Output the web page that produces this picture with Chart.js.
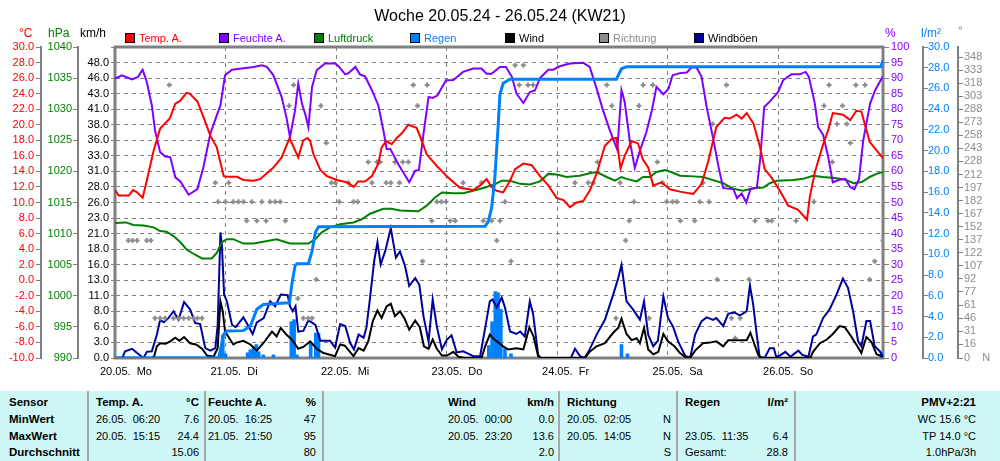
<!DOCTYPE html>
<html><head><meta charset="utf-8">
<script src="https://cdn.jsdelivr.net/npm/chart.js@4.4.1/dist/chart.umd.min.js"></script>
<style>
html,body{margin:0;padding:0;background:#fff;}
body{width:1000px;height:461px;overflow:hidden;font-family:"Liberation Sans",Arial,sans-serif;}
#wrap{position:relative;width:1000px;height:461px;}
#c{position:absolute;left:0;top:0;}
.t{position:absolute;white-space:pre;font-size:11px;line-height:13px;}
.b{font-weight:bold;font-size:11.5px;}
.box{position:absolute;width:8px;height:8px;border:1px solid #000;}
#tbl{position:absolute;left:0;top:391px;width:1000px;height:70px;background:#cdf8f6;}
.sep{position:absolute;top:391px;width:2px;height:70px;background:#a8a8a8;}
</style>
</head><body><div id="wrap">
<canvas id="c" width="1000" height="390"></canvas>
<div id="tbl"></div>
</div>
<script>
// ---------- data ----------
const dayTicks = [0, 24, 48, 72, 96, 120, 144];
const dayLabels = ['20.05.  Mo', '21.05.  Di', '22.05.  Mi', '23.05.  Do', '24.05.  Fr', '25.05.  Sa', '26.05.  So'];
const windTickLabels = ['0.0','3.0','6.0','8.0','11.0','13.0','16.0','18.0','21.0','23.0','26.0','28.0','31.0','33.0','36.0','38.0','41.0','43.0','46.0','48.0'];
const dirTickLabels = [0,16,31,46,61,77,92,107,122,137,152,167,182,197,212,228,243,258,273,288,303,318,333,348];

// [hour since 20.05. 00:00, value]
const tempSeries = [[0,11.6],[0.8,10.9],[3.0,10.9],[3.9,11.6],[4.8,11.3],[6.0,10.6],[6.9,12.8],[8.4,16.7],[9.8,19.5],[11.9,20.8],[13.1,22.7],[14.2,23.1],[15.5,24.1],[16.2,24.0],[17.9,23.0],[19.2,21.0],[20.7,18.6],[22.1,17.1],[23.6,13.4],[24.0,13.3],[26.5,13.3],[27.9,12.9],[30.1,12.8],[31.5,13.0],[34.4,14.5],[36.2,15.8],[37.9,18.3],[39.8,15.8],[40.9,18.0],[41.8,18.3],[42.4,17.9],[43.1,16.2],[44.6,14.2],[46.0,13.4],[48.2,12.9],[50.3,12.6],[51.9,12.0],[52.8,12.7],[54.3,12.7],[55.8,13.4],[57.2,15.0],[57.9,17.1],[58.9,17.9],[60.1,17.5],[61.2,18.3],[62.3,18.9],[63.7,20.0],[65.5,19.6],[66.6,18.0],[67.7,16.2],[69.9,14.7],[72.0,13.4],[74.9,11.9],[77.8,11.6],[79.3,12.2],[80.7,13.0],[81.8,12.0],[82.9,11.5],[84.3,11.3],[85.8,12.8],[86.9,14.3],[88.7,15.0],[90.5,14.8],[92.3,13.4],[94.1,12.2],[95.9,10.6],[97.4,10.3],[98.8,9.4],[100.3,10.0],[101.7,10.2],[103.1,11.5],[104.6,13.7],[106.4,17.3],[107.9,18.2],[108.9,18.3],[109.8,14.4],[110.7,16.0],[112.2,17.9],[113.6,17.6],[114.6,15.6],[115.8,14.5],[116.9,12.2],[118.7,12.6],[120.5,11.7],[122.7,11.4],[125.6,11.1],[127.4,12.4],[128.8,15.2],[130.6,19.7],[132.4,20.9],[133.5,20.8],[135.0,21.3],[136.1,20.8],[137.2,21.5],[138.7,20.1],[140.1,17.1],[141.1,14.3],[142.6,13.2],[144.4,11.5],[146.2,9.6],[148.3,9.1],[150.3,7.8],[150.9,10.7],[152.0,13.9],[153.8,17.5],[154.9,19.3],[155.9,21.5],[158.1,21.3],[159.7,20.6],[161.0,21.8],[162.1,21.7],[163.9,17.8],[165.4,16.7],[166.8,15.7]];

const humSeries = [[0,89.8],[1.5,90.9],[3.7,89.6],[5.0,90.4],[6.0,92.7],[6.9,88.8],[8.0,81.2],[8.7,73.1],[9.8,66.2],[10.9,64.8],[12.0,64.6],[13.1,58.1],[14.2,56.8],[16.0,52.5],[17.9,54.3],[19.2,61.3],[20.7,72.1],[22.1,78.0],[22.9,81.2],[23.9,90.9],[25.4,92.7],[27.9,93.2],[30.1,93.6],[31.9,94.1],[33.0,93.6],[34.4,90.9],[36.2,83.9],[37.3,76.9],[38.0,71.0],[39.1,79.6],[39.8,88.2],[40.6,81.8],[41.4,78.0],[42.0,74.2],[42.8,87.2],[43.8,92.5],[45.6,94.7],[47.8,94.7],[48.5,93.9],[50.0,91.2],[50.7,91.6],[52.2,93.6],[53.2,91.2],[54.3,90.6],[55.8,86.1],[57.2,81.2],[58.3,73.1],[59.0,67.2],[59.8,67.2],[61.5,62.4],[63.9,56.5],[65.2,60.2],[66.0,60.4],[67.0,72.1],[68.1,83.9],[69.0,83.6],[70.0,84.4],[71.9,89.3],[73.5,89.4],[75.6,92.0],[77.8,93.1],[79.6,93.1],[80.7,91.4],[81.8,91.4],[83.6,93.6],[84.9,93.6],[86.2,90.4],[87.2,85.0],[88.7,82.0],[90.1,85.5],[91.2,86.0],[92.3,90.0],[94.1,92.7],[95.2,92.7],[96.6,93.8],[98.8,94.7],[101.7,94.9],[103.1,93.6],[104.6,86.6],[106.0,79.6],[107.5,73.1],[109.1,66.9],[110.0,86.1],[110.7,82.3],[111.8,69.9],[112.9,61.1],[114.0,66.7],[115.4,72.6],[116.6,79.6],[117.6,87.2],[119.1,84.8],[120.2,86.5],[121.1,90.9],[122.7,91.6],[124.2,91.8],[125.2,93.4],[126.3,93.4],[127.4,90.4],[128.5,80.7],[130.0,69.9],[131.1,61.3],[132.1,54.6],[134.3,54.3],[135.1,51.4],[136.1,52.9],[137.1,50.0],[138.0,54.3],[139.4,54.8],[140.1,63.5],[141.0,80.7],[142.3,82.6],[144.0,85.5],[145.1,89.3],[146.9,91.2],[148.7,91.2],[150.0,92.0],[150.7,90.4],[152.0,81.8],[152.7,74.2],[153.8,71.7],[154.9,64.6],[155.9,56.5],[157.3,57.3],[158.6,57.6],[159.7,54.9],[160.6,54.3],[161.6,57.6],[162.5,69.9],[164.0,81.8],[165.1,86.1],[166.7,90.4]];

const presSeries = [[0,1011.7],[2.4,1011.8],[4.0,1011.4],[6.2,1011.3],[8.4,1011.0],[9.8,1010.4],[11.2,1010.3],[12.7,1009.6],[14.2,1008.6],[15.6,1007.4],[17.4,1006.6],[18.9,1006.0],[21.0,1006.0],[22.1,1006.9],[23.2,1008.6],[24.3,1009.1],[25.7,1009.1],[27.9,1008.4],[30.1,1008.4],[32.2,1008.7],[35.1,1009.1],[38.0,1008.4],[42.0,1008.4],[43.5,1009.1],[44.9,1010.2],[46.7,1011.0],[48.9,1011.5],[51.8,1011.8],[53.6,1012.3],[55.4,1013.2],[58.3,1014.0],[60.0,1014.0],[61.9,1013.7],[65.9,1013.6],[67.7,1014.5],[69.5,1015.8],[71.0,1016.6],[73.5,1016.5],[75.6,1016.5],[77.8,1016.9],[80.4,1017.4],[81.4,1017.7],[82.4,1017.9],[84.0,1018.5],[85.8,1018.5],[88.0,1018.0],[90.1,1017.9],[92.3,1018.4],[94.1,1019.6],[95.9,1019.5],[98.1,1019.1],[100.9,1019.3],[103.1,1019.7],[104.6,1019.9],[106.8,1019.1],[108.6,1018.5],[110.0,1019.1],[111.1,1018.8],[113.3,1018.4],[114.7,1019.1],[116.2,1019.1],[117.6,1019.9],[119.4,1020.2],[120.8,1019.9],[122.7,1019.3],[125.6,1019.2],[127.7,1019.1],[129.9,1018.6],[132.1,1018.1],[134.3,1017.2],[136.4,1016.9],[138.6,1017.3],[140.8,1017.4],[142.2,1018.1],[143.7,1018.5],[147.3,1018.6],[149.4,1018.8],[151.6,1019.3],[153.8,1019.1],[156.8,1018.9],[158.9,1018.6],[160.4,1018.1],[162.2,1018.3],[163.9,1019.1],[165.4,1019.6],[166.8,1019.9]];

const rainTotalSeries = [[0,0],[22.5,0],[23.0,1.0],[23.6,2.3],[24.3,2.6],[27.9,2.64],[29.4,3.06],[30.1,3.87],[30.8,4.7],[32.2,5.16],[35.1,5.26],[37.9,5.32],[38.4,7.1],[39.1,8.87],[39.5,9.1],[42.0,9.1],[42.8,10.3],[43.5,12.1],[44.2,12.65],[80.4,12.7],[81.1,13.2],[81.8,14.5],[82.5,17.4],[83.2,22.3],[83.6,25.4],[84.3,26.5],[85.8,26.9],[108.9,26.9],[110.0,27.9],[111.1,28.1],[166.3,28.1],[166.8,28.7]];

const rainBars = [[22.9,0.5],[23.4,2.2],[24.0,0.4],[28.8,0.5],[29.4,0.8],[30.1,1.1],[30.7,1.3],[31.2,0.6],[32.2,0.3],[34.4,0.3],[38.3,3.5],[38.9,3.7],[39.5,0.3],[42.5,1.4],[43.6,2.4],[44.2,2.4],[81.2,1.2],[81.9,3.5],[82.6,6.4],[83.2,6.3],[83.8,4.7],[84.7,0.9],[86.0,0.4],[110.0,1.3],[111.3,0.4],[166.5,0.5]];

const windSeries = [[0,0],[8.0,0],[8.5,0.3],[9.1,1.9],[9.8,2.4],[11.0,2.3],[12.0,2.7],[13.1,3.3],[14.0,2.8],[15.0,3.4],[16.3,2.4],[17.6,2.2],[18.9,1.5],[20.0,0.4],[21.4,0.2],[22.3,1.6],[22.9,9.2],[23.4,7.6],[23.9,4.3],[24.6,3.5],[25.7,2.2],[26.4,2.5],[27.9,2.8],[29.4,2.2],[30.8,1.2],[32.2,2.4],[34.1,4.3],[35.1,3.5],[36.0,4.9],[37.2,3.8],[38.4,3.0],[39.8,1.5],[40.9,1.8],[42.4,2.7],[43.8,1.5],[45.3,0.8],[47.8,0.3],[48.9,2.2],[49.9,2.0],[51.8,0.3],[52.9,1.6],[54.0,1.2],[55.0,2.7],[56.0,6.0],[57.0,7.7],[57.9,6.5],[59.0,8.4],[59.9,8.8],[60.8,6.8],[61.9,7.6],[62.9,6.4],[63.9,4.6],[65.2,6.1],[66.2,5.0],[67.1,1.9],[68.1,1.5],[69.0,3.0],[69.9,1.5],[71.0,0.4],[72.1,0.4],[73.5,1.0],[74.6,0.2],[76.0,0],[79.6,0],[80.4,1.9],[81.4,3.8],[82.4,3.0],[83.3,2.5],[84.3,1.9],[85.4,1.4],[87.2,1.6],[88.7,1.4],[90.0,5.0],[90.9,3.5],[91.9,0.3],[92.5,0],[102.0,0],[103.1,1.0],[104.6,1.9],[106.4,2.4],[108.2,4.1],[109.3,4.9],[110.0,6.4],[111.1,3.9],[112.2,2.9],[113.3,3.2],[114.0,2.4],[114.9,4.9],[115.8,1.4],[116.9,0.6],[118.0,1.0],[119.1,3.9],[120.1,2.7],[121.5,1.9],[122.7,0.8],[123.8,0.2],[124.9,0],[126.0,1.2],[127.7,2.4],[129.2,2.5],[130.6,2.7],[132.1,1.9],[133.2,2.9],[135.4,2.9],[137.2,2.9],[138.0,4.1],[138.7,2.6],[139.7,0.5],[140.4,0],[151.0,0],[151.6,1.0],[153.1,2.4],[154.6,3.0],[155.9,3.9],[157.4,5.2],[158.5,5.0],[159.9,3.5],[161.4,1.7],[162.1,0.8],[163.2,3.4],[164.3,2.6],[165.4,0.6],[166.8,0.2]];

const gustSeries = [[0,0],[1.6,0],[2.2,1.1],[3.7,1.5],[4.8,0.8],[6.2,0],[6.9,1.0],[8.0,1.1],[9.1,3.8],[9.8,6.2],[10.6,5.8],[11.6,6.5],[12.7,7.6],[13.8,6.2],[15.0,9.1],[16.3,7.9],[17.4,5.7],[18.5,5.5],[19.6,1.6],[20.7,1.2],[21.8,1.6],[22.3,5.4],[22.9,20.4],[23.2,18.5],[23.7,10.3],[24.3,9.2],[25.4,5.4],[26.2,5.0],[27.9,6.6],[28.6,5.7],[29.9,3.9],[30.8,5.8],[32.3,6.5],[33.7,9.2],[34.8,8.4],[36.0,10.3],[37.5,10.2],[38.0,8.4],[38.6,7.6],[39.2,8.4],[39.8,4.3],[40.9,4.4],[42.0,6.1],[43.5,5.4],[44.6,2.8],[46.7,2.8],[47.8,1.7],[48.9,5.5],[50.0,5.2],[51.1,2.4],[51.9,1.4],[52.9,3.8],[54.0,3.3],[54.6,4.9],[55.4,9.8],[56.3,15.8],[57.0,18.8],[57.7,15.2],[58.7,17.4],[59.9,21.1],[61.0,16.3],[61.9,17.3],[63.0,14.9],[63.9,11.7],[65.2,13.0],[66.1,11.9],[67.0,6.8],[68.1,2.7],[69.0,9.5],[69.9,5.1],[71.0,1.4],[72.1,3.0],[73.1,3.7],[74.2,0.9],[75.6,1.1],[76.7,0.7],[77.8,0.3],[79.3,0.3],[80.4,4.9],[81.4,9.2],[82.0,9.5],[82.9,8.2],[84.0,9.8],[84.7,8.2],[85.8,4.3],[87.2,3.9],[88.0,4.3],[89.0,3.5],[90.1,9.2],[90.8,7.2],[91.9,0.5],[92.5,0],[99.0,0],[99.9,1.5],[101.0,0.3],[102.0,0],[103.1,1.4],[104.6,3.8],[106.4,6.2],[108.2,10.3],[109.3,13.0],[110.0,15.1],[111.1,9.2],[112.5,7.9],[114.0,6.2],[114.9,9.2],[115.8,3.8],[116.9,1.9],[117.9,2.8],[119.1,10.0],[120.1,6.5],[121.2,5.1],[122.3,2.7],[123.8,0.4],[124.9,0],[126.0,3.8],[127.4,6.0],[128.5,6.6],[129.9,6.2],[130.6,6.5],[132.1,5.2],[133.2,7.2],[134.6,7.4],[135.7,6.9],[137.2,7.6],[137.9,11.8],[138.6,8.7],[139.3,4.3],[140.0,0.2],[141.1,0],[142.2,1.6],[143.1,1.6],[143.6,0.2],[144.4,0.4],[145.6,1.0],[146.7,0.2],[148.4,1.2],[149.3,0.5],[150.6,0.2],[151.6,3.5],[152.3,3.8],[153.8,6.5],[155.2,7.9],[156.7,10.3],[158.1,12.9],[159.2,11.4],[160.3,7.6],[161.4,2.7],[162.1,1.9],[163.2,6.0],[164.0,6.0],[165.0,1.9],[166.1,1.1],[166.8,0.2]];

const dirPoints = [[11.8,316],[38.8,316],[64.8,316],[67.8,316],[87.8,316],[89.7,316],[90.8,316],[106.8,316],[114.7,316],[116.8,316],[132.8,316],[155.1,316],[160.9,316],[162.9,316],
[86.9,339],[88.7,339],
[37.8,292],[44.7,292],[65.7,292],[107.9,292],[113.8,292],[154.0,292],[158.0,292],
[129.8,271],[156.8,271],[158.9,271],
[45.9,249],[159.7,249],
[55.0,227],[56.9,227],[57.6,227],[60.8,227],[62.5,227],[63.7,227],[104.8,227],[117.8,227],[155.8,227],
[21.8,203],[24.7,203],[47.0,203],[47.8,203],[50.7,203],[55.8,203],[58.9,203],[59.9,203],[61.8,203],[75.6,203],[79.6,203],[99.9,203],[102.8,203],[103.9,203],[109.7,203],[118.9,203],[127.7,203],
[22.4,181],[24.0,181],[25.7,181],[26.8,181],[27.9,181],[29.7,181],[31.9,181],[33.7,181],[34.8,181],[35.9,181],[48.7,181],[51.8,181],[52.7,181],[69.9,181],[70.9,181],[71.9,181],[84.7,181],[112.7,181],[119.8,181],[121.1,181],[122.0,181],[127.0,181],[129.0,181],[151.8,181],
[28.6,159],[30.8,159],[32.8,159],[37.0,159],[68.8,159],[72.8,159],[73.9,159],[80.0,159],[81.8,159],[83.6,159],[111.7,159],[122.8,159],[125.9,159],[139.0,159],[141.8,159],[142.6,159],[147.9,159],
[2.9,136],[3.8,136],[4.8,136],[6.9,136],[7.8,136],[82.9,136],[110.9,136],[166.8,136],
[66.8,112],[86.0,112],[165.0,112],
[43.7,91],[130.8,91],[137.7,91],[163.9,91],
[39.7,69],
[8.7,46],[9.8,46],[10.9,46],[12.7,46],[13.8,46],[14.9,46],[16.0,46],[17.1,46],[17.9,46],[18.9,46],[40.9,46],[42.0,46],[42.8,46],[108.8,46],[116.0,46],[133.9,46],[135.8,46],
[134.7,23]];

// ---------- colours ----------
const C_TEMP = '#ff0000', C_HUM = '#8000ff', C_PRES = '#008000', C_RAIN = '#0080ff',
      C_WIND = '#000000', C_DIR = '#8c8c8c', C_GUST = '#00009c', C_AXIS = '#808080';
const FAM = '"Liberation Sans", Arial, sans-serif';
Chart.defaults.font.family = FAM;
Chart.defaults.font.size = 11;

// ---------- overlay texts ----------
const wrap = document.getElementById('wrap');
function addText(txt, x, y, opts) {
  const d = document.createElement('div');
  d.className = 't' + (opts && opts.bold ? ' b' : '');
  d.textContent = txt;
  if (opts && opts.right) d.style.right = (1000 - x) + 'px'; else d.style.left = x + 'px';
  d.style.top = y + 'px';
  if (opts && opts.color) d.style.color = opts.color;
  if (opts && opts.size) { d.style.fontSize = opts.size + 'px'; d.style.lineHeight = (opts.size + 3) + 'px'; }
  wrap.appendChild(d);
  return d;
}
const title = addText('Woche 20.05.24 - 26.05.24 (KW21)', 0, 6, {size: 16});
title.style.width = '1000px'; title.style.textAlign = 'center';

addText('°C', 19, 26, {color: C_TEMP, size: 12});
addText('hPa', 48, 26, {color: C_PRES, size: 12});
addText('km/h', 80, 26, {color: '#000', size: 12});
addText('%', 885, 26, {color: C_HUM, size: 12});
addText('l/m²', 921, 26, {color: C_RAIN, size: 12});
addText('°', 958, 24, {color: C_DIR, size: 12});

const legendItems = [
  ['Temp. A.', C_TEMP, C_TEMP, 125], ['Feuchte A.', C_HUM, C_HUM, 219], ['Luftdruck', C_PRES, C_PRES, 314],
  ['Regen', C_RAIN, C_RAIN, 410], ['Wind', C_WIND, '#000', 505], ['Richtung', C_DIR, C_DIR, 599], ['Windböen', C_GUST, '#000', 694]
];
legendItems.forEach(([name, boxColor, txtColor, x]) => {
  const b = document.createElement('div');
  b.className = 'box'; b.style.left = x + 'px'; b.style.top = '33px'; b.style.background = boxColor;
  wrap.appendChild(b);
  addText(name, x + 14, 31, {color: txtColor, size: 11});
});

// table
const rowsY = [396, 413, 430, 446];
const tableCells = [
  ['Sensor',9,0,'L',1],['Temp. A.',96,0,'L',1],['°C',199,0,'R',1],['Feuchte A.',208,0,'L',1],['%',316,0,'R',1],
  ['Wind',448,0,'L',1],['km/h',554,0,'R',1],['Richtung',567,0,'L',1],['Regen',685,0,'L',1],['l/m²',788,0,'R',1],['PMV+2:21',976,0,'R',1],
  ['MinWert',9,1,'L',1],['26.05.  06:20',96,1,'L',0],['7.6',199,1,'R',0],['20.05.  16:25',208,1,'L',0],['47',316,1,'R',0],
  ['20.05.  00:00',448,1,'L',0],['0.0',554,1,'R',0],['20.05.  02:05',567,1,'L',0],['N',671,1,'R',0],['WC 15.6 °C',976,1,'R',0],
  ['MaxWert',9,2,'L',1],['20.05.  15:15',96,2,'L',0],['24.4',199,2,'R',0],['21.05.  21:50',208,2,'L',0],['95',316,2,'R',0],
  ['20.05.  23:20',448,2,'L',0],['13.6',554,2,'R',0],['20.05.  14:05',567,2,'L',0],['N',671,2,'R',0],['23.05.  11:35',685,2,'L',0],['6.4',788,2,'R',0],['TP 14.0 °C',976,2,'R',0],
  ['Durchschnitt',9,3,'L',1],['15.06',199,3,'R',0],['80',316,3,'R',0],['2.0',554,3,'R',0],['S',671,3,'R',0],['Gesamt:',685,3,'L',0],['28.8',788,3,'R',0],['1.0hPa/3h',976,3,'R',0]
];
tableCells.forEach(([t, x, r, al, bold]) => addText(t, x, rowsY[r], {right: al === 'R', bold: !!bold, color: '#000'}));
[87, 204, 322, 558, 676, 794].forEach(x => {
  const s = document.createElement('div'); s.className = 'sep'; s.style.left = x + 'px'; wrap.appendChild(s);
});

// ---------- chart ----------
const toXY = a => a.map(p => ({x: p[0], y: p[1]}));
const mkLine = (label, pts, axis, color, width) => ({
  type: 'line', label, data: toXY(pts), yAxisID: axis, xAxisID: 'x',
  borderColor: color, backgroundColor: color, borderWidth: width,
  pointRadius: 0, tension: 0, fill: false
});

const WIND_MAX = 48 / 19 * 20;
const tickFont = {size: 11, family: FAM};

const framePlugin = {
  id: 'frame',
  beforeDatasetsDraw(chart) {
    const {ctx, chartArea: a} = chart;
    ctx.save();
    ctx.strokeStyle = C_AXIS; ctx.lineWidth = 3;
    ctx.strokeRect(a.left, a.top, a.right - a.left, a.bottom - a.top);
    ctx.restore();
  }
};

const sideAxis = (pos, weight, width, color, extra) => Object.assign({
  position: pos, weight,
  afterFit: s => { s.width = width; },
  grid: {drawOnChartArea: false, drawTicks: true, tickLength: 5, tickColor: C_AXIS, tickWidth: 1},
  border: {display: true, color: C_AXIS, width: 2},
  ticks: {color, font: tickFont, padding: 1, autoSkip: false}
}, extra);

new Chart(document.getElementById('c'), {
  type: 'line',
  data: {
    datasets: [
      mkLine('Regen', rainTotalSeries, 'yRain', C_RAIN, 3),
      mkLine('Temp. A.', tempSeries, 'yTemp', C_TEMP, 2),
      mkLine('Feuchte A.', humSeries, 'yHum', C_HUM, 2),
      mkLine('Luftdruck', presSeries, 'yPres', C_PRES, 2),
      mkLine('Wind', windSeries, 'yWind', C_WIND, 2),
      {
        type: 'line', label: 'Richtung', data: toXY(dirPoints), yAxisID: 'yDir', xAxisID: 'x',
        showLine: false, pointStyle: 'cross', pointRadius: 2.5, pointBorderWidth: 2,
        borderColor: C_DIR, backgroundColor: C_DIR
      },
      mkLine('Windböen', gustSeries, 'yWind', C_GUST, 2),
      {
        type: 'bar', label: 'Regen (Intervall)', data: toXY(rainBars), yAxisID: 'yRain', xAxisID: 'x',
        backgroundColor: C_RAIN, borderWidth: 0, barThickness: 3, grouped: false
      }
    ]
  },
  options: {
    responsive: false, animation: false, devicePixelRatio: 1,
    layout: {padding: {top: 47, left: 0, right: 0, bottom: 0}},
    plugins: {legend: {display: false}, tooltip: {enabled: false}, title: {display: false}},
    scales: {
      x: {
        type: 'linear', position: 'bottom', min: 0, max: 166.8, offset: false,
        afterBuildTicks: s => { s.ticks = dayTicks.map(v => ({value: v})); },
        afterFit: s => { s.height = 32; },
        grid: {color: C_AXIS, lineWidth: 1, drawTicks: false, offset: false},
        border: {display: false, dash: [4, 4]},
        ticks: {callback: (v, i) => dayLabels[i], align: 'start', labelOffset: -15, padding: 7,
                color: '#000', font: tickFont, maxRotation: 0, autoSkip: false}
      },
      yTemp: sideAxis('left', 2, 41, C_TEMP, {min: -10, max: 30,
        ticks: {stepSize: 2, color: C_TEMP, font: tickFont, padding: 2, autoSkip: false, callback: v => v.toFixed(1)}}),
      yPres: sideAxis('left', 1, 37, C_PRES, {min: 990, max: 1040,
        ticks: {stepSize: 5, color: C_PRES, font: tickFont, padding: 1, autoSkip: false, callback: v => String(v)}}),
      yWind: {
        position: 'left', weight: 0, min: 0, max: WIND_MAX,
        afterFit: s => { s.width = 37; },
        afterBuildTicks: s => { s.ticks = windTickLabels.map((l, i) => ({value: i * WIND_MAX / 20})).concat([{value: WIND_MAX}]); },
        grid: {drawOnChartArea: true, color: C_AXIS, lineWidth: 1, drawTicks: true, tickLength: 4, tickColor: C_AXIS, tickWidth: 1},
        border: {display: true, color: C_AXIS, width: 2, dash: [4, 4]},
        ticks: {color: '#000', font: tickFont, padding: 2, autoSkip: false, callback: (v, i) => windTickLabels[i] || ''}
      },
      yHum: sideAxis('right', 0, 40, C_HUM, {min: 0, max: 100,
        grid: {drawOnChartArea: false, drawTicks: true, tickLength: 6, tickColor: C_AXIS, tickWidth: 1},
        ticks: {stepSize: 5, color: C_HUM, font: tickFont, padding: 2, autoSkip: false, callback: v => String(v)}}),
      yRain: sideAxis('right', 1, 35, C_RAIN, {min: 0, max: 30,
        ticks: {stepSize: 2, color: C_RAIN, font: tickFont, padding: 0, autoSkip: false, callback: v => v.toFixed(1)}}),
      yDir: sideAxis('right', 2, 42, C_DIR, {min: 0, max: 360,
        afterBuildTicks: s => { s.ticks = dirTickLabels.map(v => ({value: v})); },
        ticks: {color: C_DIR, font: tickFont, padding: 1, autoSkip: false, callback: (v, i) => i === 0 ? '0    N' : String(dirTickLabels[i])}})
    }
  },
  plugins: [framePlugin]
});
</script>
</body></html>
